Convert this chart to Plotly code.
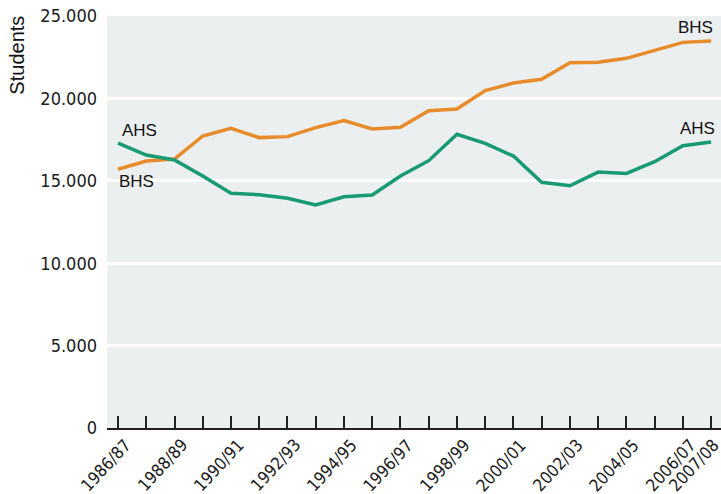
import plotly.graph_objects as go

years = ["1986/87", "1987/88", "1988/89", "1989/90", "1990/91", "1991/92", "1992/93",
         "1993/94", "1994/95", "1995/96", "1996/97", "1997/98", "1998/99", "1999/00",
         "2000/01", "2001/02", "2002/03", "2003/04", "2004/05", "2005/06", "2006/07", "2007/08"]
ahs = [17280, 16560, 16260, 15290, 14240, 14160, 13940, 13530, 14030, 14140, 15290,
       16220, 17820, 17270, 16500, 14910, 14700, 15530, 15450, 16160, 17130, 17350]
bhs = [15700, 16200, 16320, 17720, 18190, 17620, 17680, 18230, 18650, 18140, 18250,
       19250, 19360, 20470, 20930, 21160, 22170, 22190, 22430, 22940, 23400, 23480]
x_labels = ["1986/87", "", "1988/89", "", "1990/91", "", "1992/93", "", "1994/95", "",
            "1996/97", "", "1998/99", "", "2000/01", "", "2002/03", "", "2004/05", "",
            "2006/07", "2007/08"]
y_ticks = [0, 5000, 10000, 15000, 20000, 25000]
y_labels = ["0", "5.000", "10.000", "15.000", "20.000", "25.000"]

ORANGE = "#E88B2A"
GREEN = "#189A72"
BG = "#ECEFF0"
NARROW = "Liberation Sans Narrow, Arial Narrow, DejaVu Sans Condensed, sans-serif"
SANS = "Liberation Sans, Arial, Helvetica, sans-serif"

idx = list(range(len(years)))

fig = go.Figure()
fig.add_trace(go.Scatter(x=idx, y=bhs, mode="lines", name="BHS",
                         line=dict(color=ORANGE, width=3.5), hoverinfo="skip"))
fig.add_trace(go.Scatter(x=idx, y=ahs, mode="lines", name="AHS",
                         line=dict(color=GREEN, width=3.5), hoverinfo="skip"))

annotations = []
for i, lab in enumerate(x_labels):
    if lab:
        annotations.append(dict(x=i, y=0, xref="x", yref="y", text=lab, showarrow=False,
                                textangle=-47, xanchor="right", yanchor="top",
                                xshift=15 if i == len(x_labels) - 1 else 20, yshift=-4,
                                font=dict(family=NARROW, size=17, color="#1a1a1a")))

annotations += [
    dict(x=0, y=ahs[0], xref="x", yref="y", text="AHS", showarrow=False,
         xanchor="left", yanchor="bottom", xshift=2, yshift=1,
         font=dict(family=SANS, size=17, color="#111")),
    dict(x=0, y=bhs[0], xref="x", yref="y", text="BHS", showarrow=False,
         xanchor="left", yanchor="top", xshift=-1, yshift=-1,
         font=dict(family=SANS, size=17, color="#111")),
    dict(x=len(years) - 1, y=bhs[-1], xref="x", yref="y", text="BHS", showarrow=False,
         xanchor="right", yanchor="bottom", xshift=4, yshift=2,
         font=dict(family=SANS, size=17, color="#111")),
    dict(x=len(years) - 1, y=ahs[-1], xref="x", yref="y", text="AHS", showarrow=False,
         xanchor="right", yanchor="bottom", xshift=6, yshift=2,
         font=dict(family=SANS, size=17, color="#111")),
    dict(x=-0.148, y=25000, xref="paper", yref="y", text="Students", showarrow=False,
         textangle=-90, xanchor="center", yanchor="top", yshift=2,
         font=dict(family=SANS, size=20, color="#111")),
]

fig.update_layout(
    width=721, height=494,
    margin=dict(l=107, r=0, t=16, b=66),
    paper_bgcolor="white", plot_bgcolor=BG,
    showlegend=False,
    annotations=annotations,
    xaxis=dict(range=[-0.39, 21.35], tickmode="array", tickvals=idx,
               ticktext=["" for _ in idx], ticks="inside", ticklen=12, tickwidth=1.5,
               tickcolor="#222", showgrid=False, zeroline=False,
               showline=True, linecolor="#222", linewidth=2),
    yaxis=dict(range=[0, 25000], tickmode="array", tickvals=y_ticks, ticktext=y_labels,
               showgrid=True, gridcolor="white", gridwidth=2.5, zeroline=False,
               showline=False, ticks="", ticklabelstandoff=9,
               tickfont=dict(family=NARROW, size=18, color="#1a1a1a")),
)

fig.write_html("out.html", config={"displayModeBar": False},
               post_script="document.body.style.margin='0';document.body.style.padding='0';"
                           "document.body.style.overflow='hidden';")
